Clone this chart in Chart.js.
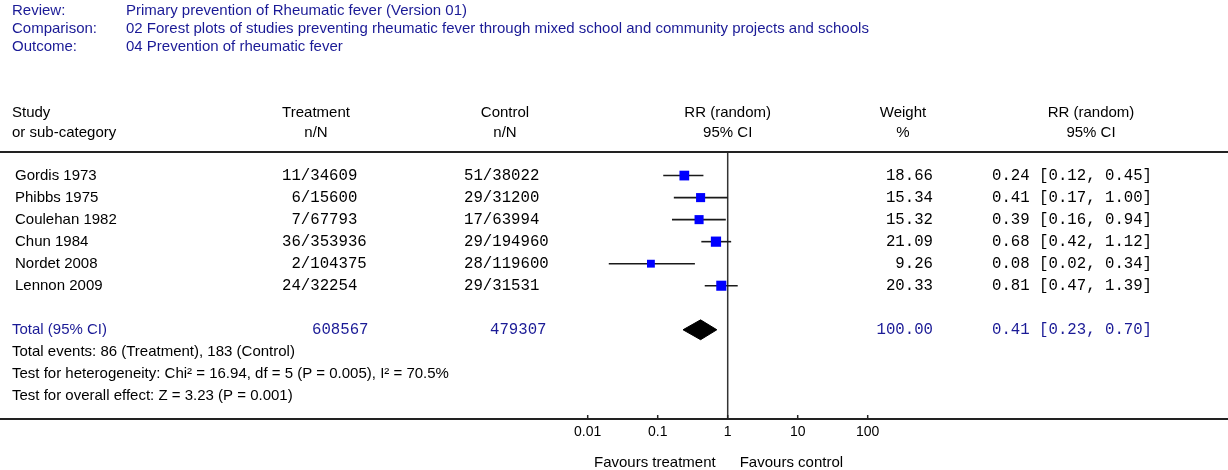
<!DOCTYPE html>
<html>
<head>
<meta charset="utf-8">
<title>Primary prevention of Rheumatic fever</title>
<script src="https://cdn.jsdelivr.net/npm/chart.js@4.4.1/dist/chart.umd.min.js"></script>
<style>
    html, body { margin: 0; padding: 0; background: #fff; }
    #forestPlot { display: block; }
</style>
</head>
<body>
<canvas id="forestPlot" width="1228" height="470"></canvas>
<script>
// datos del forest plot
const headerLabels = ['Review:', 'Comparison:', 'Outcome:'];
const headerValues = [
    'Primary prevention of Rheumatic fever (Version 01)',
    '02 Forest plots of studies preventing rheumatic fever through mixed school and community projects and schools',
    '04 Prevention of rheumatic fever'
];
const studies = ['Gordis 1973', 'Phibbs 1975', 'Coulehan 1982', 'Chun 1984', 'Nordet 2008', 'Lennon 2009'];
const treatEvents = [11, 6, 7, 36, 2, 24];
const treatTotal = [34609, 15600, 67793, 353936, 104375, 32254];
const ctrlEvents = [51, 29, 17, 29, 28, 29];
const ctrlTotal = [38022, 31200, 63994, 194960, 119600, 31531];
const weights = [18.66, 15.34, 15.32, 21.09, 9.26, 20.33];
const rr = [0.24, 0.41, 0.39, 0.68, 0.08, 0.81];
const rrLow = [0.12, 0.17, 0.16, 0.42, 0.02, 0.47];
const rrHigh = [0.45, 1.00, 0.94, 1.12, 0.34, 1.39];
const totalLabel = 'Total (95% CI)';
const totalTreat = 608567;
const totalCtrl = 479307;
const totalWeight = 100.00;
const totalRR = 0.41;
const totalLow = 0.23;
const totalHigh = 0.70;
const footerLines = [
    'Total events: 86 (Treatment), 183 (Control)',
    'Test for heterogeneity: Chi² = 16.94, df = 5 (P = 0.005), I² = 70.5%',
    'Test for overall effect: Z = 3.23 (P = 0.001)'
];
const xTicks = [0.01, 0.1, 1, 10, 100];

const SANS = '15px "Liberation Sans", Arial, sans-serif';
const MONO = '15.7px "Liberation Mono", "Courier New", monospace';
const NAVY = '#1a1a96';
const TOTAL_ROW = studies.length + 1;
const Y_MIN = -1.07, Y_MAX = 11.05;

const fmtNN = (n, N) => String(n).padStart(2, ' ') + '/' + N;
const fmtCI = (v, l, h) => v.toFixed(2) + ' [' + l.toFixed(2) + ', ' + h.toFixed(2) + ']';

// textos de la tabla, dibujados en el canvas
const tablePlugin = {
    id: 'forestTable',
    afterDraw(chart) {
        const c = chart.ctx;
        const x = chart.scales.x, y = chart.scales.y;
        const area = chart.chartArea;
        const x1 = x.getPixelForValue(1);
        c.save();
        c.textBaseline = 'middle';

        // cabecera
        c.font = SANS;
        c.fillStyle = NAVY;
        c.textAlign = 'left';
        headerLabels.forEach((t, i) => {
            c.fillText(t, 12, 11 + i * 18);
            c.fillText(headerValues[i], 126, 11 + i * 18);
        });

        // columnas
        c.fillStyle = '#000';
        c.fillText('Study', 12, 113);
        c.fillText('or sub-category', 12, 133);
        c.textAlign = 'center';
        [['Treatment', 'n/N', 316], ['Control', 'n/N', 505], ['RR (random)', '95% CI', x1],
         ['Weight', '%', 903], ['RR (random)', '95% CI', 1091]].forEach(h => {
            c.fillText(h[0], h[2], 113);
            c.fillText(h[1], h[2], 133);
        });

        // linea superior
        c.strokeStyle = '#222';
        c.lineWidth = 2;
        c.beginPath();
        c.moveTo(0, area.top);
        c.lineTo(chart.width, area.top);
        c.stroke();

        // filas de estudios
        studies.forEach((s, i) => {
            const py = y.getPixelForValue(i);
            c.font = SANS;
            c.textAlign = 'left';
            c.fillText(s, 15, py);
            c.font = MONO;
            c.fillText(fmtNN(treatEvents[i], treatTotal[i]), 282, py);
            c.fillText(fmtNN(ctrlEvents[i], ctrlTotal[i]), 464, py);
            c.fillText(fmtCI(rr[i], rrLow[i], rrHigh[i]), 992, py);
            c.textAlign = 'right';
            c.fillText(weights[i].toFixed(2), 933, py);
        });

        // total
        const ty = y.getPixelForValue(TOTAL_ROW);
        c.fillStyle = NAVY;
        c.font = SANS;
        c.textAlign = 'left';
        c.fillText(totalLabel, 12, ty);
        c.font = MONO;
        c.fillText(String(totalTreat), 312, ty);
        c.fillText(String(totalCtrl), 490, ty);
        c.fillText(fmtCI(totalRR, totalLow, totalHigh), 992, ty);
        c.textAlign = 'right';
        c.fillText(totalWeight.toFixed(2), 933, ty);

        // pie
        c.fillStyle = '#000';
        c.font = SANS;
        c.textAlign = 'left';
        footerLines.forEach((t, i) => {
            c.fillText(t, 12, y.getPixelForValue(TOTAL_ROW + 1 + i));
        });

        // marcas del eje hacia arriba
        c.lineWidth = 1.5;
        xTicks.forEach(v => {
            const px = x.getPixelForValue(v);
            c.beginPath();
            c.moveTo(px, area.bottom - 4);
            c.lineTo(px, area.bottom);
            c.stroke();
        });

        c.textAlign = 'right';
        c.fillText('Favours treatment', x1 - 12, 463);
        c.textAlign = 'left';
        c.fillText('Favours control', x1 + 12, 463);
        c.restore();
    }
};

document.addEventListener('DOMContentLoaded', function () {
    const ctx = document.getElementById('forestPlot').getContext('2d');

    const ciLines = studies.map((s, i) => ({
        label: s,
        data: [{ x: rrLow[i], y: i }, { x: rrHigh[i], y: i }],
        borderColor: '#1a1a1a',
        borderWidth: 1.6,
        pointRadius: 0,
        fill: false
    }));

    new Chart(ctx, {
        type: 'line',
        data: {
            datasets: [
                {
                    label: 'RR (random)',
                    data: rr.map((v, i) => ({ x: v, y: i })),
                    showLine: false,
                    pointStyle: 'rect',
                    pointRadius: weights.map(w => (6 + 0.2 * w) / Math.SQRT2),
                    backgroundColor: '#0000ff',
                    borderColor: '#0000ff',
                    borderWidth: 0
                },
                ...ciLines,
                {
                    label: 'Total',
                    data: [
                        { x: totalLow, y: TOTAL_ROW },
                        { x: totalRR, y: TOTAL_ROW - 0.45 },
                        { x: totalHigh, y: TOTAL_ROW },
                        { x: totalRR, y: TOTAL_ROW + 0.45 },
                        { x: totalLow, y: TOTAL_ROW }
                    ],
                    fill: 'shape',
                    backgroundColor: '#000',
                    borderColor: '#000',
                    borderWidth: 1,
                    pointRadius: 0,
                    tension: 0
                },
                {
                    label: 'No effect',
                    data: [{ x: 1, y: Y_MIN }, { x: 1, y: Y_MAX }],
                    borderColor: '#333',
                    borderWidth: 1.5,
                    pointRadius: 0,
                    fill: false
                }
            ]
        },
        options: {
            responsive: false,
            animation: false,
            devicePixelRatio: 1,
            layout: { autoPadding: false, padding: { top: 152, left: 0, right: 0, bottom: 0 } },
            plugins: {
                legend: { display: false },
                tooltip: { enabled: false }
            },
            scales: {
                x: {
                    type: 'logarithmic',
                    min: Math.pow(10, -727.7 / 70),
                    max: Math.pow(10, (1228 - 727.7) / 70),
                    bounds: 'data',
                    afterBuildTicks: scale => { scale.ticks = xTicks.map(v => ({ value: v })); },
                    afterFit: scale => { scale.height = 51; scale.paddingLeft = 0; scale.paddingRight = 0; },
                    grid: { display: false, drawTicks: false },
                    border: { display: true, color: '#222', width: 2 },
                    ticks: {
                        padding: 5,
                        autoSkip: false,
                        maxRotation: 0,
                        color: '#000',
                        font: { family: 'Liberation Sans', size: 14 },
                        callback: v => String(v)
                    }
                },
                y: {
                    type: 'linear',
                    min: Y_MIN,
                    max: Y_MAX,
                    reverse: true,
                    display: false
                }
            }
        },
        plugins: [tablePlugin]
    });
});
</script>
</body>
</html>
